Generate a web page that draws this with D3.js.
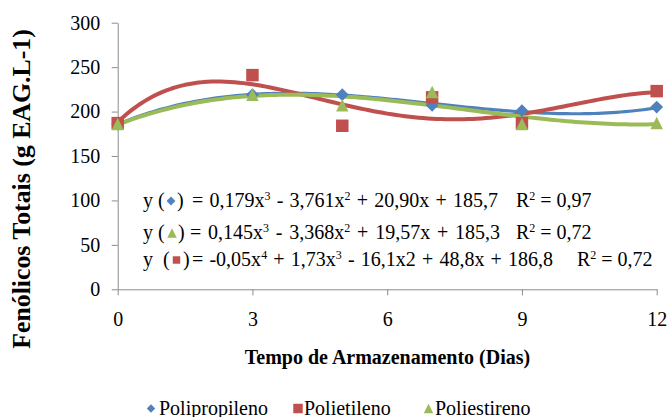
<!DOCTYPE html>
<html>
<head>
<meta charset="utf-8">
<script src="https://cdn.jsdelivr.net/npm/d3@7"></script>
<style>
  html, body { margin: 0; padding: 0; background: #fff; }
  svg { display: block; font-family: "Liberation Serif"; }
  svg text, svg tspan { font-family: "Liberation Serif" !important; }
</style>
</head>
<body>
<svg id="chart" width="669" height="417" font-family="Liberation Serif"></svg>
<script>
// Storage days and total phenolics per packaging type
const days = [0, 3, 5, 7, 9, 12];
const polipropileno = [186, 219, 219, 207, 201, 205];
const polietileno = [187, 241, 184, 216, 187, 223];
const poliestireno = [186, 219, 207, 222, 186, 187];

// Trendline coefficients, ascending powers (c0 + c1 x + c2 x^2 + ...)
const coefPolipropileno = [185.7, 20.90, -3.761, 0.179];
const coefPoliestireno = [185.3, 19.57, -3.368, 0.145];
const degreePolietileno = 4;

const seriesNames = ["Polipropileno", "Polietileno", "Poliestireno"];
const yTicks = [0, 50, 100, 150, 200, 250, 300];
const xTicks = [0, 3, 6, 9, 12];

// Equation labels ("^n" marks a superscript)
const eqPolipropileno = "= 0,179x^3 - 3,761x^2 + 20,90x + 185,7";
const eqPoliestireno = "= 0,145x^3 - 3,368x^2 + 19,57x + 185,3";
const eqPolietileno = "= -0,05x^4 + 1,73x^3 - 16,1x2 + 48,8x + 186,8";
const r2Polipropileno = "R^2 = 0,97";
const r2Poliestireno = "R^2 = 0,72";
const r2Polietileno = "R^2 = 0,72";

const colors = { blue: "#4F81BD", red: "#C0504D", green: "#9BBB59" };

// Excel-like marker shapes (equal width and height)
const diamondType = { draw(ctx, size) { const r = Math.sqrt(size) / 2 * 1.05;
  ctx.moveTo(0, -r); ctx.lineTo(r, 0); ctx.lineTo(0, r); ctx.lineTo(-r, 0); ctx.closePath(); } };
const squareType = { draw(ctx, size) { const r = Math.sqrt(size) / 2;
  ctx.rect(-r, -r, 2 * r, 2 * r); } };
const triangleType = { draw(ctx, size) { const r = Math.sqrt(size) / 2;
  ctx.moveTo(0, -r); ctx.lineTo(r, r); ctx.lineTo(-r, r); ctx.closePath(); } };

// Least-squares polynomial fit (normal equations + Gaussian elimination)
function polyFit(xs, ys, deg) {
  const n = deg + 1;
  const A = Array.from({ length: n }, () => new Array(n + 1).fill(0));
  for (let r = 0; r < n; r++) {
    for (let c = 0; c < n; c++) A[r][c] = d3.sum(xs, x => Math.pow(x, r + c));
    A[r][n] = d3.sum(xs, (x, i) => ys[i] * Math.pow(x, r));
  }
  for (let i = 0; i < n; i++) {
    let p = i;
    for (let k = i + 1; k < n; k++) if (Math.abs(A[k][i]) > Math.abs(A[p][i])) p = k;
    [A[i], A[p]] = [A[p], A[i]];
    for (let k = i + 1; k < n; k++) {
      const f = A[k][i] / A[i][i];
      for (let j = i; j <= n; j++) A[k][j] -= f * A[i][j];
    }
  }
  const c = new Array(n).fill(0);
  for (let i = n - 1; i >= 0; i--) {
    let s = A[i][n];
    for (let j = i + 1; j < n; j++) s -= A[i][j] * c[j];
    c[i] = s / A[i][i];
  }
  return c;
}
const polyEval = (coef, x) => coef.reduce((s, c, i) => s + c * Math.pow(x, i), 0);
const coefPolietileno = polyFit(days, polietileno, degreePolietileno);

const svg = d3.select("#chart");
const x = d3.scaleLinear().domain([0, 12]).range([117.7, 656.7]);
const y = d3.scaleLinear().domain([0, 300]).range([289.3, 22.7]);
const axisColor = "#8c8c8c";

function txt(parent, size, weight) {
  return parent.append("text")
    .attr("font-family", "Liberation Serif")
    .attr("font-size", size).attr("font-weight", weight || "normal").attr("fill", "#000");
}

// Axes
const gy = svg.append("g").attr("transform", `translate(${x(0)},0)`)
  .call(d3.axisLeft(y).tickValues(yTicks).tickSize(6).tickSizeOuter(0).tickPadding(11.5));
const gx = svg.append("g").attr("transform", `translate(0,${y(0)})`)
  .call(d3.axisBottom(x).tickValues(xTicks).tickSize(6).tickSizeOuter(0).tickPadding(17));
[gx, gy].forEach(g => {
  g.attr("font-family", "Liberation Serif").attr("font-size", 20);
  g.select(".domain").attr("stroke", axisColor).attr("stroke-width", 1);
  g.selectAll(".tick line").attr("stroke", axisColor);
  g.selectAll(".tick text").attr("fill", "#000");
});

// Axis titles
txt(svg, 25.8, "bold").attr("transform", "translate(30,189) rotate(-90)")
  .attr("text-anchor", "middle").text("Fenólicos Totais (g EAG.L-1)");
txt(svg, 20, "bold").attr("x", 387.5).attr("y", 364)
  .attr("text-anchor", "middle").text("Tempo de Armazenamento (Dias)");

// Trendlines
const xs = d3.range(0, 12.0001, 0.1);
const line = d3.line().x(d => x(d[0])).y(d => y(d[1]));
const trends = [
  { coef: coefPolipropileno, color: colors.blue, w: 3.2 },
  { coef: coefPolietileno, color: colors.red, w: 4 },
  { coef: coefPoliestireno, color: colors.green, w: 4 }
];
trends.forEach(t => {
  svg.append("path").datum(xs.map(v => [v, polyEval(t.coef, v)]))
    .attr("d", line).attr("fill", "none").attr("stroke", t.color)
    .attr("stroke-width", t.w).attr("stroke-linejoin", "round");
});

// Markers
const series = [
  { vals: polipropileno, color: colors.blue, type: diamondType, size: 150 },
  { vals: polietileno, color: colors.red, type: squareType, size: 156 },
  { vals: poliestireno, color: colors.green, type: triangleType, size: 156 }
];
series.forEach(s => {
  svg.append("g").selectAll("path").data(days.map((d, i) => [d, s.vals[i]])).join("path")
    .attr("transform", d => `translate(${x(d[0])},${y(d[1])})`)
    .attr("d", d3.symbol().type(s.type).size(s.size))
    .attr("fill", s.color);
});

// Text with "^n" superscripts
function richText(sel, str) {
  const parts = str.split(/\^(\d)/);
  let shift = 0;
  parts.forEach((p, i) => {
    if (!p) return;
    const t = sel.append("tspan").text(p);
    if (i % 2 === 1) {
      t.attr("dy", -7).attr("font-size", 12);
      shift = 7;
    } else if (shift) {
      t.attr("dy", shift);
      shift = 0;
    }
  });
  return sel;
}

// Regression equations; "width" is the span each equation body occupies
const eqRows = [
  { base: 207, sym: diamondType, symSize: 70, color: colors.blue, open: 158, symX: 171, close: 177, body: 192, width: 306, eq: eqPolipropileno, rx: 516, r2: r2Polipropileno },
  { base: 239, sym: triangleType, symSize: 90, color: colors.green, open: 158, symX: 172, close: 178, body: 190, width: 310, eq: eqPoliestireno, rx: 516, r2: r2Poliestireno },
  { base: 266, sym: squareType, symSize: 56, color: colors.red, open: 163, symX: 176.5, close: 183, body: 192, width: 361, eq: eqPolietileno, rx: 577, r2: r2Polietileno }
];
const eqG = svg.append("g");
eqRows.forEach(r => {
  txt(eqG, 20).attr("x", 143).attr("y", r.base).text("y");
  txt(eqG, 20).attr("x", r.open).attr("y", r.base).text("(");
  eqG.append("path").attr("transform", `translate(${r.symX},${r.base - 6})`)
    .attr("d", d3.symbol().type(r.sym).size(r.symSize)).attr("fill", r.color);
  txt(eqG, 20).attr("x", r.close).attr("y", r.base).text(")");
  const body = richText(txt(eqG, 20).attr("x", r.body).attr("y", r.base), r.eq);
  const natural = body.node().getComputedTextLength();
  const gaps = (r.eq.match(/ /g) || []).length;
  body.attr("word-spacing", Math.max(0, (r.width - natural) / gaps));
  richText(txt(eqG, 20).attr("x", r.rx).attr("y", r.base), r.r2);
});

// Legend
const legend = [
  { name: seriesNames[0], type: diamondType, size: 64, color: colors.blue, sx: 151, tx: 159 },
  { name: seriesNames[1], type: squareType, size: 90, color: colors.red, sx: 298, tx: 304 },
  { name: seriesNames[2], type: triangleType, size: 90, color: colors.green, sx: 428.5, tx: 435 }
];
legend.forEach(l => {
  svg.append("path").attr("transform", `translate(${l.sx},408.5)`)
    .attr("d", d3.symbol().type(l.type).size(l.size)).attr("fill", l.color);
  txt(svg, 20).attr("x", l.tx).attr("y", 414.5).text(l.name);
});
</script>
</body>
</html>
